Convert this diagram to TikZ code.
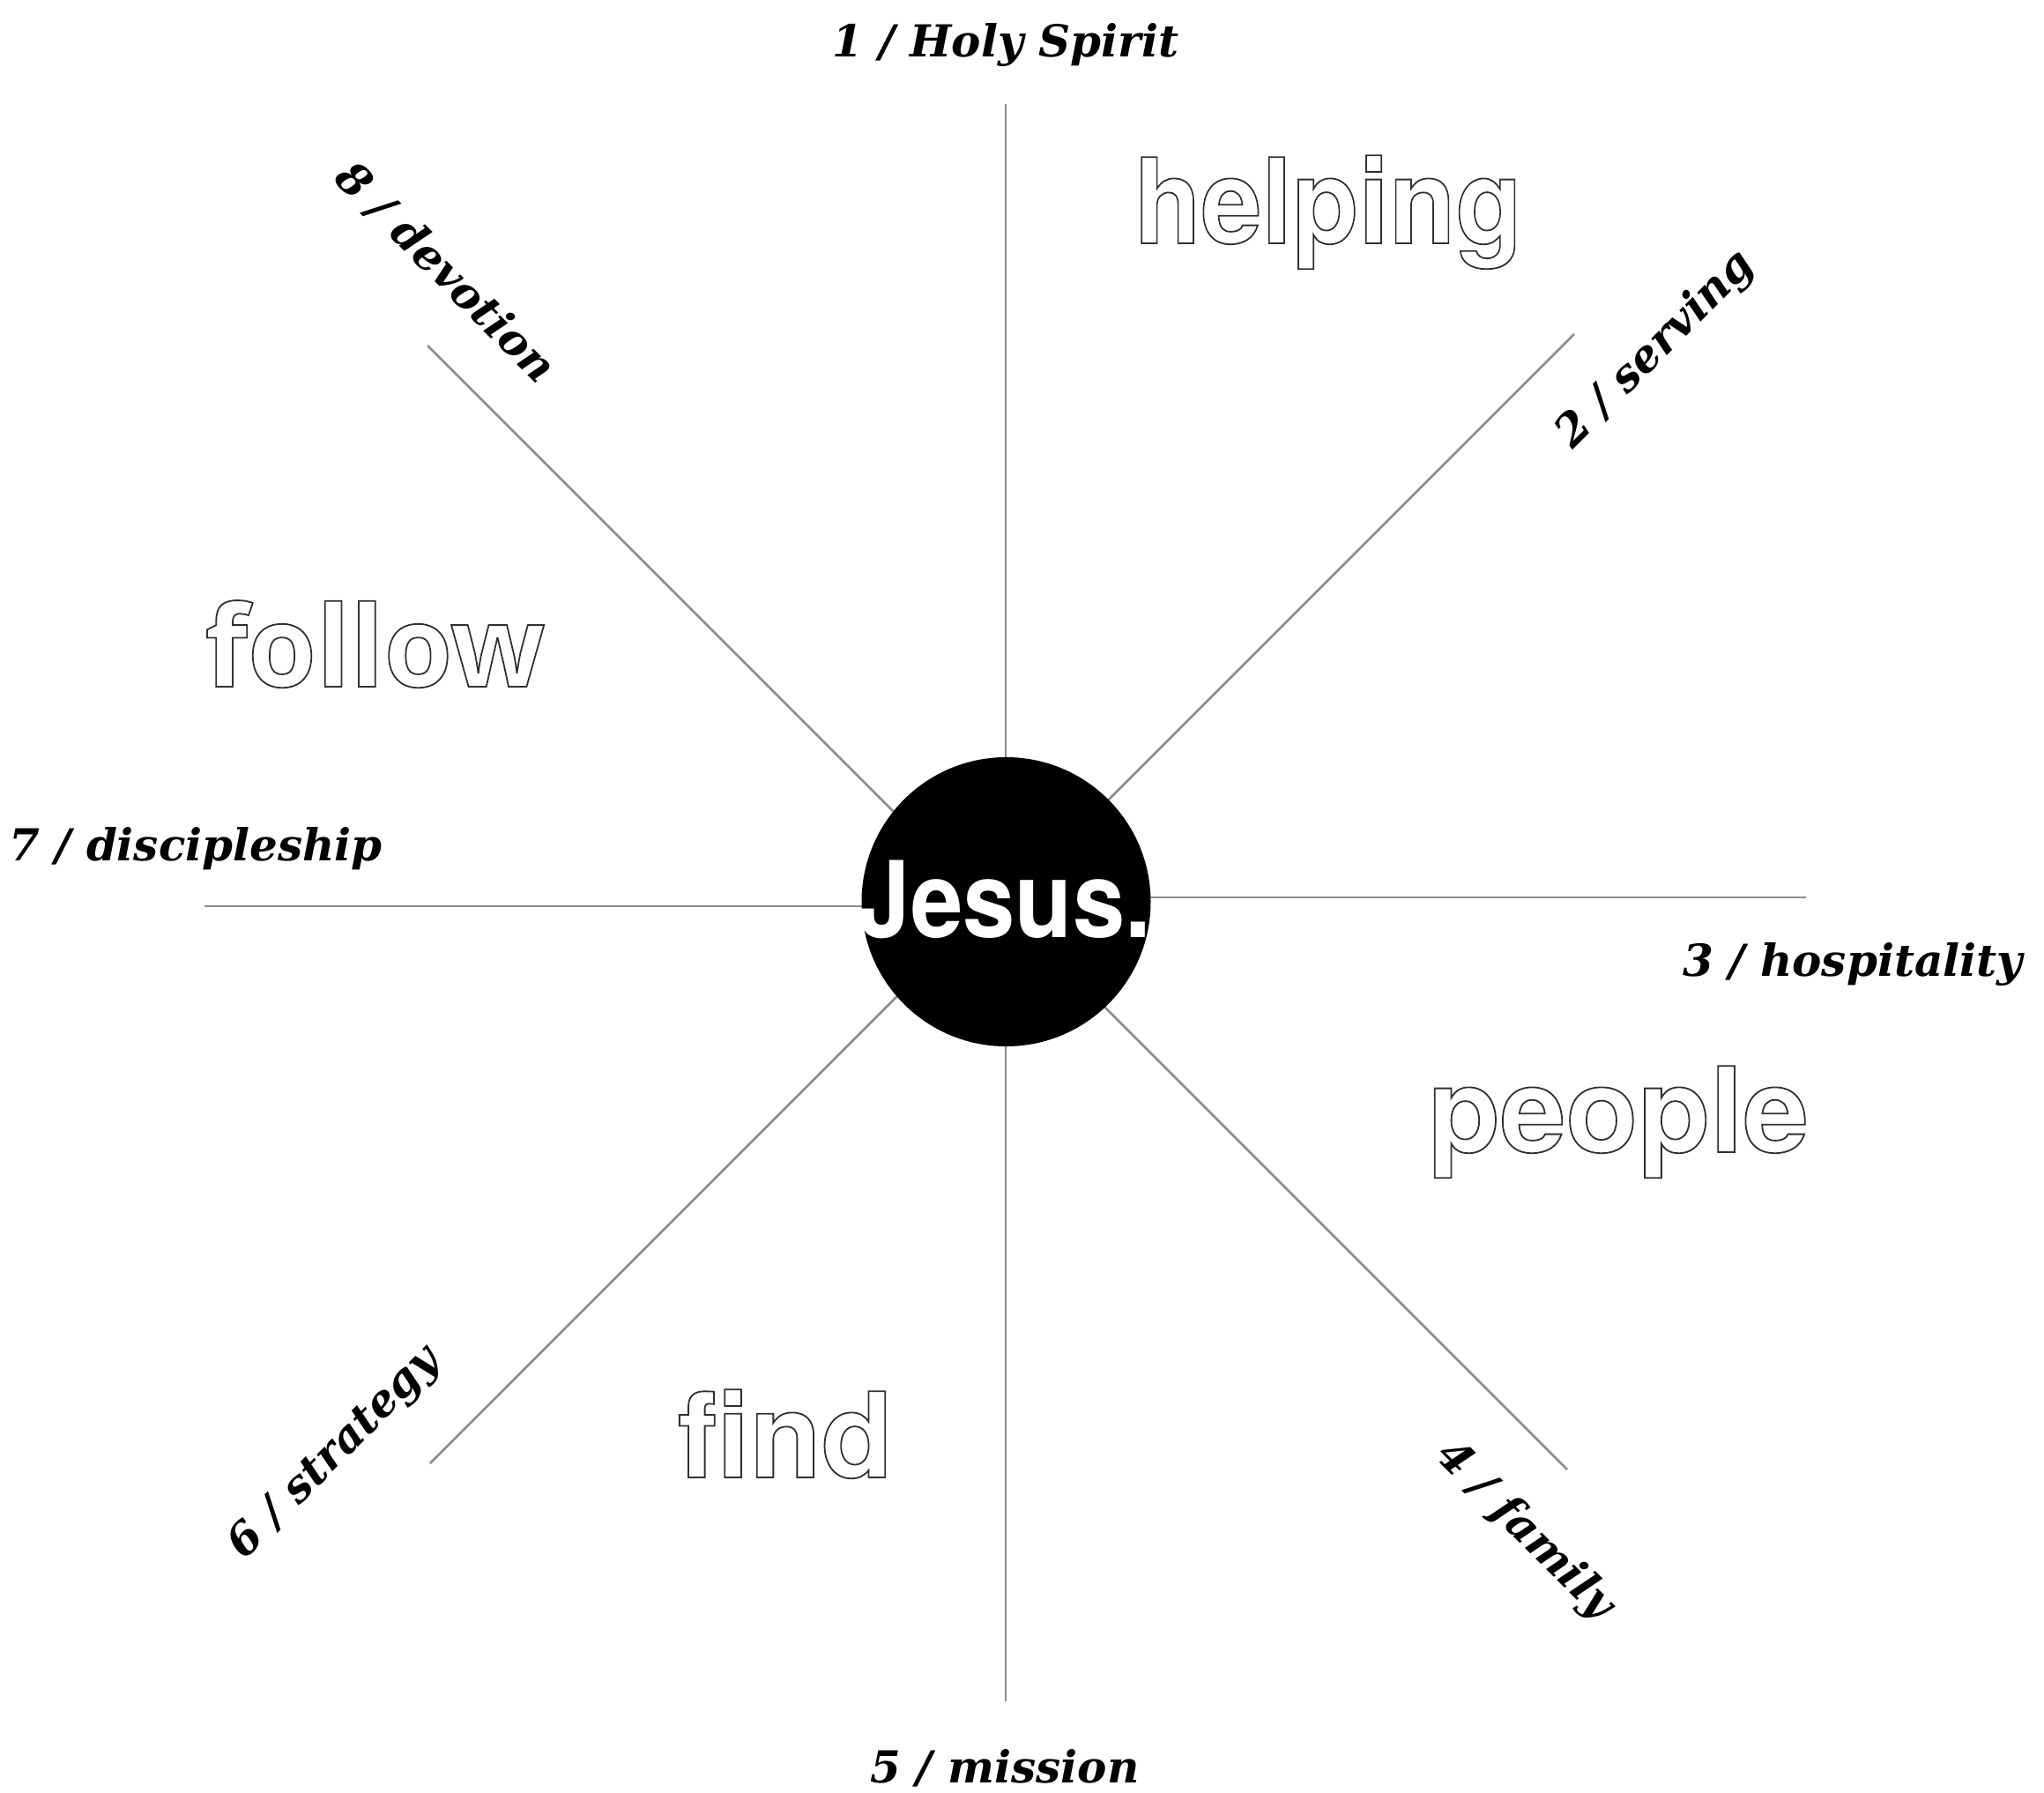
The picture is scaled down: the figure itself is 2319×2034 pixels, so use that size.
\documentclass[tikz,border=0pt]{standalone}
\usepackage{fontspec}
\usepackage{graphicx}
\newfontfamily\lblfont{DejaVu Serif}
\newfontfamily\helvfont{TeX Gyre Heros}
\newfontfamily\opensansfont{Open Sans}
\newcommand\outlinetext[1]{\special{pdf:literal direct 1 Tr 0.9 w}#1\special{pdf:literal direct 0 Tr}}
\definecolor{raygray}{HTML}{8C8C8C}
\definecolor{outlinegray}{HTML}{303030}
\tikzset{
  ray/.style={draw=raygray, line width=1.3pt},
  lbl/.style={inner sep=0pt, font=\fontsize{25}{29}\selectfont\lblfont\bfseries\itshape},
  bigword/.style={inner sep=0pt, anchor=base, text=outlinegray},
}
\begin{document}
\begin{tikzpicture}[x=0.5pt, y=-0.5pt]
\fill[white] (0,0) rectangle (2319,2034);
\useasboundingbox (0,0) rectangle (2319,2034);
% ray end points
\coordinate (oN) at (1141,118);   \coordinate (iN) at (1141,900);
\coordinate (oS) at (1141,1930);  \coordinate (iS) at (1141,1150);
\coordinate (oE) at (2049,1018);  \coordinate (iE) at (1250,1018);
\coordinate (oW) at (232,1028);   \coordinate (iW) at (1030,1028);
\coordinate (oNW) at (485,392);   \coordinate (iNW) at (1060,967);
\coordinate (oNE) at (1786,379);  \coordinate (iNE) at (1225,940);
\coordinate (oSE) at (1778,1667); \coordinate (iSE) at (1222,1111);
\coordinate (oSW) at (488,1660);  \coordinate (iSW) at (1060,1088);
\draw[ray] (oN) -- (iN);
\draw[ray] (oS) -- (iS);
\draw[ray] (oE) -- (iE);
\draw[ray] (oW) -- (iW);
\draw[ray] (oNW) -- (iNW);
\draw[ray] (oNE) -- (iNE);
\draw[ray] (oSE) -- (iSE);
\draw[ray] (oSW) -- (iSW);
% center
\node (hub) [circle, fill=black, inner sep=0pt, minimum size=164pt] at (1141.5,1023) {};
\node (jesus) [inner sep=0pt, anchor=base, text=white] at (1140,1063)
  {\resizebox{166pt}{\height}{\fontsize{60}{60}\selectfont\helvfont\bfseries Jesus.}};
% outline words
\node (helping) [bigword] at (1507,276)
  {\resizebox{220pt}{\height}{\fontsize{67}{67}\selectfont\helvfont\bfseries\outlinetext{helping}}};
\node (follow) [bigword] at (425.5,779)
  {\resizebox{193pt}{\height}{\fontsize{64}{64}\selectfont\opensansfont\bfseries\outlinetext{follow}}};
\node (people) [bigword] at (1836,1307)
  {\resizebox{216pt}{\height}{\fontsize{67}{67}\selectfont\helvfont\bfseries\outlinetext{people}}};
\node (find) [bigword] at (891,1676)
  {\resizebox{122pt}{\height}{\fontsize{67}{67}\selectfont\helvfont\bfseries\outlinetext{find}}};
% labels
\node (l1) [lbl, anchor=base] at (1141,64) {1 / Holy Spirit};
\node (l5) [lbl, anchor=base] at (1140,2022) {5 / mission};
\node (l7) [lbl, anchor=base] at (222,976) {7 / discipleship};
\node (l3) [lbl, anchor=base] at (2102,1107) {3 / hospitality};
\node (l8) [lbl, rotate=-45] at (506,309) {8 / devotion};
\node (l2) [lbl, rotate=45] at (1879,397) {2 / serving};
\node (l4) [lbl, rotate=-45] at (1730,1737) {4 / family};
\node (l6) [lbl, rotate=45] at (380,1649) {6 / strategy};
\end{tikzpicture}
\end{document}
